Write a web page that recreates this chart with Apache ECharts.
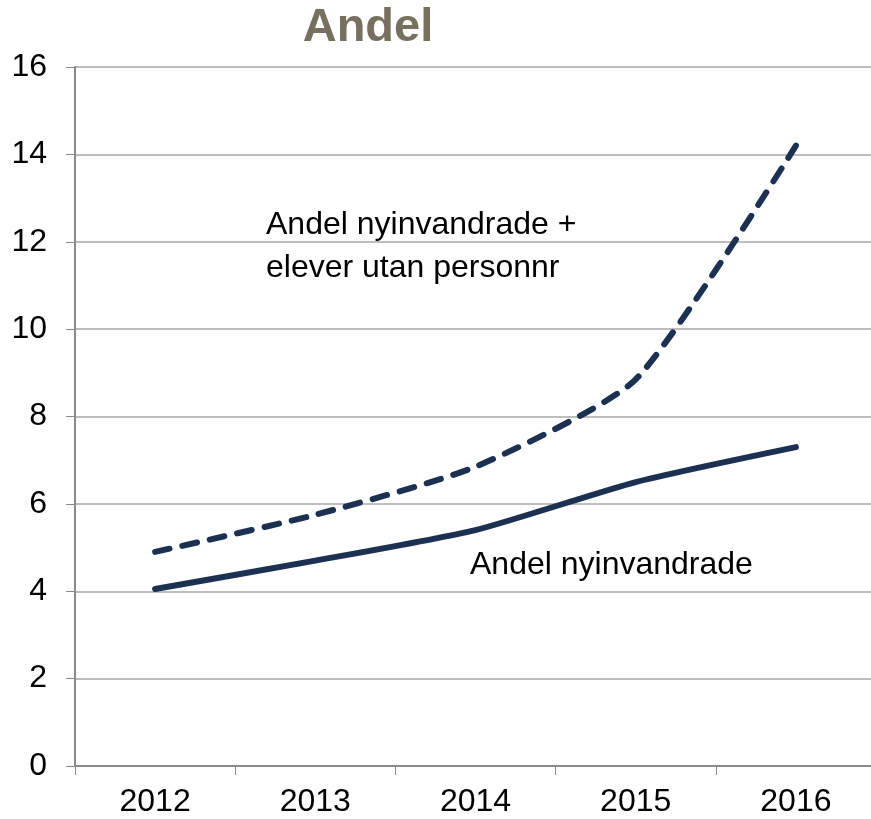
<!DOCTYPE html>
<html>
<head>
<meta charset="utf-8">
<script src="https://cdn.jsdelivr.net/npm/echarts@6/dist/echarts.min.js"></script>
<style>
  html, body { margin: 0; padding: 0; background: #fff; overflow: hidden; }
  #chart { width: 880px; height: 819px; }
</style>
</head>
<body>
<div id="chart"></div>
<script>
// data
var years = ['2012', '2013', '2014', '2015', '2016'];
var nyinvandrade = [4.05, 4.7, 5.4, 6.5, 7.3];
var nyinvUtanPnr = [4.9, 5.75, 6.85, 8.85, 14.2];
var yTicks = [0, 2, 4, 6, 8, 10, 12, 14, 16];

var lineColor = '#1c3152';
var font = '"Liberation Sans", Arial, sans-serif';

// the plot runs a little past the right edge of the window, so the div is wider
var myChart = echarts.init(document.getElementById('chart'));

var option = {
    animation: false,
    title: {
        text: 'Andel',
        left: 363,
        top: 0,
        textAlign: 'center',
        textStyle: {
            color: '#77705f',
            fontWeight: 'bold',
            fontSize: 47,
            fontFamily: font
        }
    },
    grid: {
        left: 75,
        right: 4,
        top: 67,
        bottom: 53,
        containLabel: false
    },
    xAxis: {
        type: 'category',
        boundaryGap: true,
        data: years,
        axisLine: { lineStyle: { color: '#8a8a8a', width: 2 } },
        axisTick: { show: true, length: 9, lineStyle: { color: '#8a8a8a', width: 1 } },
        axisLabel: {
            color: '#000',
            fontSize: 32,
            fontFamily: font,
            margin: 20
        }
    },
    yAxis: {
        type: 'value',
        min: yTicks[0],
        max: yTicks[yTicks.length - 1],
        interval: 2,
        axisLine: { show: true, lineStyle: { color: '#8a8a8a', width: 2 } },
        axisTick: { show: true, length: 9, lineStyle: { color: '#8a8a8a', width: 1 } },
        axisLabel: {
            color: '#000',
            fontSize: 32,
            fontFamily: font,
            margin: 28
        },
        splitLine: { show: true, lineStyle: { color: '#a8a8a8', width: 1.5 } }
    },
    series: [
        {
            name: 'Andel nyinvandrade',
            type: 'line',
            data: nyinvandrade,
            smooth: 0.2,
            showSymbol: false,
            lineStyle: { color: lineColor, width: 6, cap: 'round', join: 'round' }
        },
        {
            name: 'Andel nyinvandrade + elever utan personnr',
            type: 'line',
            data: nyinvUtanPnr,
            smooth: 0.2,
            showSymbol: false,
            lineStyle: { color: lineColor, width: 6, type: [15, 13], cap: 'round', join: 'round' }
        }
    ],
    graphic: [
        {
            type: 'text',
            left: 266,
            top: 204,
            style: {
                text: 'Andel nyinvandrade +\nelever utan personnr',
                font: '32px ' + font,
                fill: '#000',
                lineHeight: 43
            }
        },
        {
            type: 'text',
            left: 470,
            top: 549,
            style: {
                text: 'Andel nyinvandrade',
                font: '32px ' + font,
                fill: '#000'
            }
        }
    ]
};

myChart.setOption(option);
</script>
</body>
</html>
